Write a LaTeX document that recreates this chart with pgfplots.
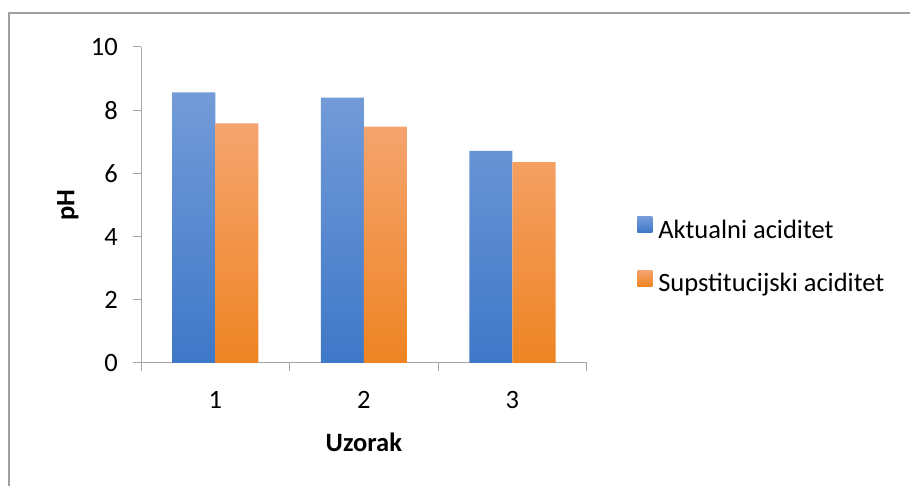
\documentclass[border=0pt]{standalone}
\usepackage{fontspec}
\setmainfont{Carlito}
\usepackage{pgfplots}
\pgfplotsset{compat=1.18}

\definecolor{axgray}{HTML}{A6A6A6}
\definecolor{framegray}{HTML}{A0A0A0}
\definecolor{blueTop}{HTML}{739BD8}
\definecolor{blueBot}{HTML}{3F78C8}
\definecolor{orTop}{HTML}{F5A46F}
\definecolor{orBot}{HTML}{EE8423}

\begin{document}
\fontsize{26.6}{31}\selectfont
\begin{tikzpicture}[x=1bp,y=1bp]
\useasboundingbox (0,0) rectangle (910,486);
\draw[framegray, line width=1.3bp] (9,-5) -- (9,473) -- (915,473);
\begin{axis}[
    at={(141bp,123bp)}, anchor=south west,
    scale only axis,
    width=445.7bp, height=316bp,
    xmin=0.5, xmax=3.5,
    ymin=0, ymax=10,
    ytick={0,2,...,10},
    xtick={0.5,1.5,2.5,3.5},
    x tick label as interval,
    xticklabels={1,2,3},
    axis x line*=bottom,
    axis y line*=left,
    axis line style={axgray, line width=1bp},
    tick align=outside,
    major tick length=8bp,
    tick style={axgray, line width=1bp},
    /pgf/number format/assume math mode=true,
    yticklabel style={inner sep=0pt, xshift=-15bp},
    xticklabel style={inner sep=0pt, yshift=-20bp},
    xlabel={Uzorak},
    ylabel={pH},
    xlabel style={font=\bfseries, at={(axis description cs:0.5,-0.25)}, anchor=center},
    ylabel style={font=\bfseries, at={(axis description cs:-0.164,0.5)}, anchor=center},
    legend style={at={(rel axis cs:1.113,0.334)}, anchor=west, draw=none, fill=none,
        inner sep=0pt, row sep=26bp,
        /tikz/every odd column/.append style={column sep=6bp},
        nodes={inner sep=0pt, text height=19bp, text depth=6bp}},
    legend cell align=left,
    legend image code/.code={\path[#1, draw=none] (0bp,-1bp) rectangle (15bp,15bp);},
]
\addplot[ybar, bar width=0.29, bar shift=-0.145, draw=none,
    top color=blueTop, bottom color=blueBot]
    coordinates {(1,8.56) (2,8.40) (3,6.71)};
\addplot[ybar, bar width=0.29, bar shift=0.145, draw=none,
    top color=orTop, bottom color=orBot]
    coordinates {(1,7.58) (2,7.48) (3,6.36)};
\legend{Aktualni aciditet, Supstitucijski aciditet}
\end{axis}
\end{tikzpicture}
\end{document}
